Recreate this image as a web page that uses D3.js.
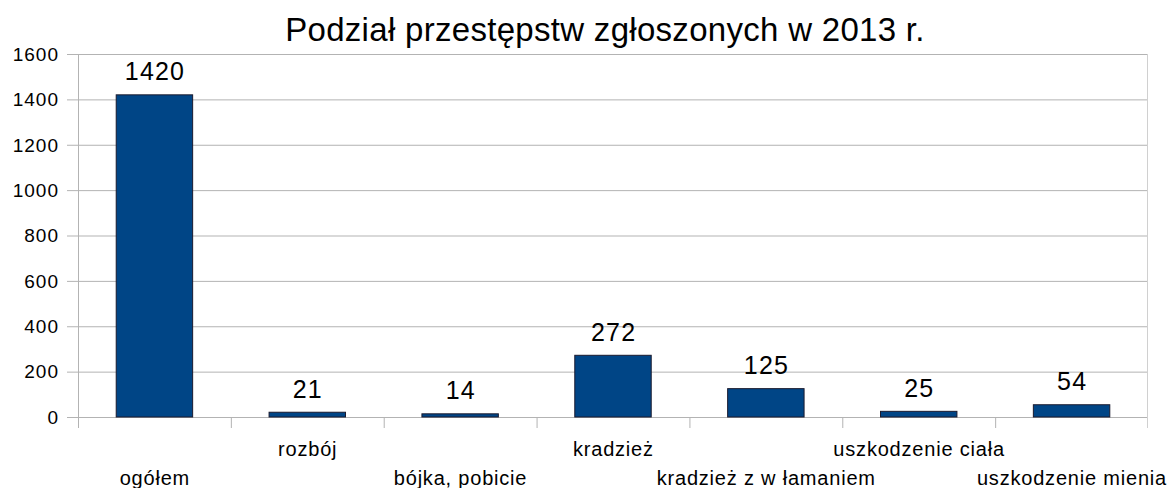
<!DOCTYPE html>
<html>
<head>
<meta charset="utf-8">
<script src="https://cdn.jsdelivr.net/npm/d3@7"></script>
<style>
  body { margin: 0; background: #fff; }
  svg { display: block; font-family: "Liberation Sans", Arial, sans-serif; }
</style>
</head>
<body>
<div class="chart"></div>
<script>
const width = 1167;
const height = 488;
const margin = ({top: 54, right: 19, bottom: 71, left: 78});

const title = 'Podział przestępstw zgłoszonych w 2013 r.';
const categories = ['ogółem', 'rozbój', 'bójka, pobicie', 'kradzież', 'kradzież z w łamaniem', 'uszkodzenie ciała', 'uszkodzenie mienia'];
const values = [1420, 21, 14, 272, 125, 25, 54];
const yTicks = [0, 200, 400, 600, 800, 1000, 1200, 1400, 1600];

const xScale = d3.scaleBand()
	.domain(categories)
	.range([margin.left, width - margin.right])
	.paddingInner(0.5)
	.paddingOuter(0.25);

const yScale = d3.scaleLinear()
	.domain([0, 1600])
	.range([height - margin.bottom, margin.top]);

const svg = d3.select('.chart').append('svg')
	.attr('width', width)
	.attr('height', height);

// gridlines
svg.append('g')
	.selectAll('line')
	.data(yTicks)
	.enter()
	.append('line')
	.attr('x1', margin.left - 11)
	.attr('x2', width - margin.right)
	.attr('y1', d => yScale(d) + 0.5)
	.attr('y2', d => yScale(d) + 0.5)
	.attr('stroke', '#b3b3b3')
	.attr('stroke-width', 1);

// left and right frame lines
const x0 = xScale.range()[0], x1 = xScale.range()[1];
svg.append('line')
	.attr('x1', x0 + 0.5).attr('x2', x0 + 0.5)
	.attr('y1', margin.top).attr('y2', yScale(0) + 11)
	.attr('stroke', '#b3b3b3');
svg.append('line')
	.attr('x1', x1 - 0.5).attr('x2', x1 - 0.5)
	.attr('y1', margin.top).attr('y2', yScale(0) + 11)
	.attr('stroke', '#d0d0d0');

// x ticks at band boundaries
svg.append('g')
	.selectAll('line')
	.data(d3.range(1, categories.length))
	.enter()
	.append('line')
	.attr('x1', i => x0 + i * xScale.step() + 0.5)
	.attr('x2', i => x0 + i * xScale.step() + 0.5)
	.attr('y1', yScale(0))
	.attr('y2', yScale(0) + 11)
	.attr('stroke', '#b3b3b3');

// y tick labels
svg.append('g')
	.selectAll('text')
	.data(yTicks)
	.enter()
	.append('text')
	.attr('x', margin.left - 19)
	.attr('y', d => yScale(d))
	.attr('dy', '0.36em')
	.attr('text-anchor', 'end')
	.attr('font-size', 19)
	.attr('letter-spacing', 1)
	.attr('fill', '#000')
	.text(d => d);

// bars
svg.selectAll('.bar')
	.data(values)
	.enter()
	.append('rect')
	.attr('class', 'bar')
	.attr('x', (d, i) => xScale(categories[i]))
	.attr('y', d => yScale(d))
	.attr('width', xScale.bandwidth())
	.attr('height', d => yScale(0) - yScale(d))
	.attr('fill', '#004586')
	.attr('stroke', '#1a1a2e')
	.attr('stroke-width', 1);

// value labels
svg.selectAll('.val')
	.data(values)
	.enter()
	.append('text')
	.attr('class', 'val')
	.attr('x', (d, i) => xScale(categories[i]) + xScale.bandwidth() / 2 + 0.6)
	.attr('y', d => yScale(d) - 14.5)
	.attr('text-anchor', 'middle')
	.attr('font-size', 25)
	.attr('letter-spacing', 1.2)
	.attr('fill', '#000')
	.text(d => d);

// category labels, staggered in two rows
svg.selectAll('.cat')
	.data(categories)
	.enter()
	.append('text')
	.attr('class', 'cat')
	.attr('x', d => xScale(d) + xScale.bandwidth() / 2 + 0.4)
	.attr('y', (d, i) => i % 2 === 0 ? 485 : 456)
	.attr('text-anchor', 'middle')
	.attr('font-size', 20)
	.attr('letter-spacing', 0.8)
	.attr('fill', '#000')
	.text(d => d);

svg.append('text')
	.attr('x', 605)
	.attr('y', 41)
	.attr('text-anchor', 'middle')
	.attr('font-size', 33)
	.attr('letter-spacing', 0.3)
	.attr('fill', '#000')
	.text(title);
</script>
</body>
</html>
